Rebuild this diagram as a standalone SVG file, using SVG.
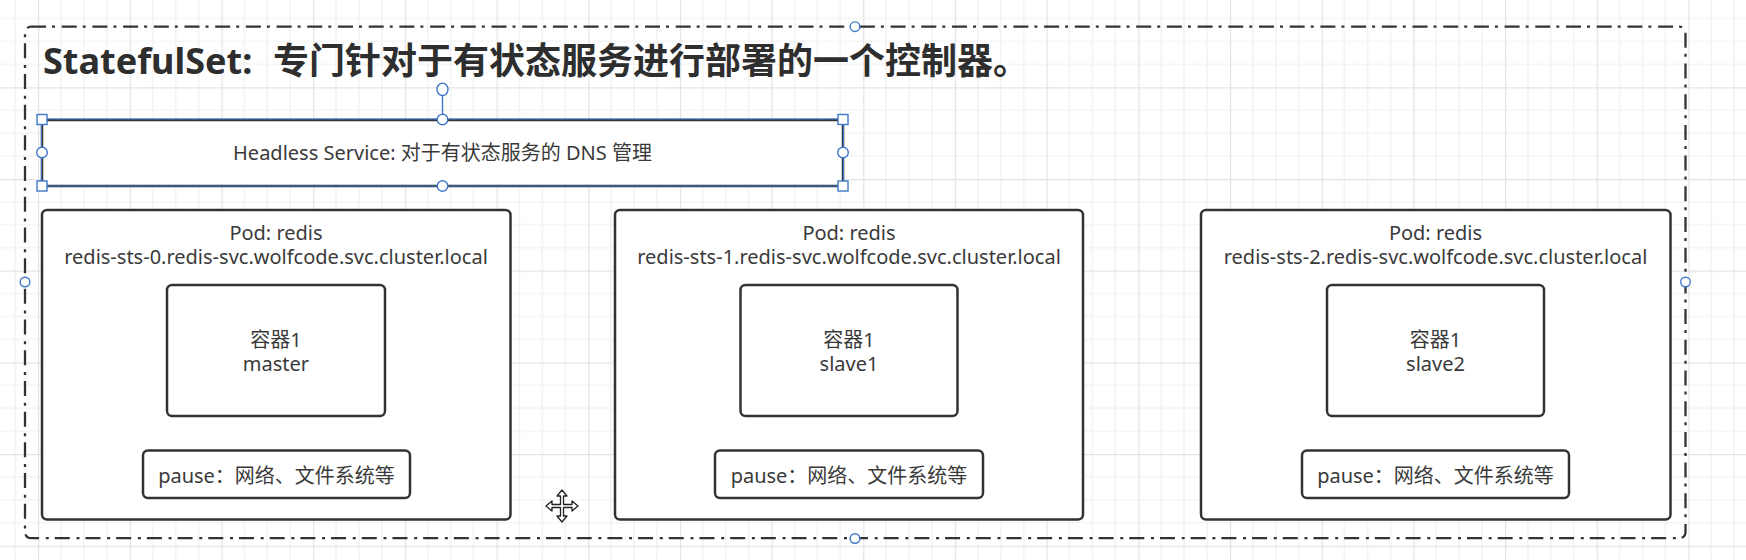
<svg xmlns="http://www.w3.org/2000/svg" width="1746" height="560" viewBox="0 0 1746 560">
  <style>
    .box{fill:#fff;stroke:#333;stroke-width:2.5}
    .t{font-family:"Noto Sans","Noto Sans CJK SC",sans-serif;font-size:20px;fill:#3a3a3a;text-anchor:middle}
    .title{font-family:"Noto Sans","Noto Sans CJK SC",sans-serif;font-size:36px;font-weight:bold;fill:#2e2e2e}
    .h{fill:#fff;stroke:#3f78c8;stroke-width:1.4}
  </style>
  <defs>
    <pattern id="grid" patternUnits="userSpaceOnUse" x="38.1" y="-4.4" width="91.68" height="91.68">
      <rect width="91.68" height="91.68" fill="#fff"/>
      <path d="M22.92 0V91.68M45.84 0V91.68M68.76 0V91.68M0 22.92H91.68M0 45.84H91.68M0 68.76H91.68" stroke="#efefef" stroke-width="1.2"/>
      <path d="M0.6 0V91.68M0 0.6H91.68" stroke="#e3e3e3" stroke-width="1.2"/>
    </pattern>
  </defs>
  <rect width="1746" height="560" fill="url(#grid)"/>

  <g id="statefulset">
    <rect x="25" y="26.7" width="1660.5" height="511.5" rx="6" fill="none" stroke="#333" stroke-width="2.3" stroke-dasharray="15 6 3 6.7"/>
    <text class="title" x="43" y="74">StatefulSet: <tspan x="273">专门针对于有状态服务进行部署的一个控制器。</tspan></text>
    <circle class="h" cx="855" cy="26.7" r="4.8"/>
    <circle class="h" cx="855" cy="538.5" r="4.8"/>
    <circle class="h" cx="25" cy="282" r="4.8"/>
    <circle class="h" cx="1685.5" cy="282" r="4.8"/>
  </g>

  <g id="headless-service">
    <rect class="box" x="42" y="120" width="801" height="66"/>
    <rect x="41.5" y="119" width="802" height="67" fill="none" stroke="#3f78c8" stroke-width="1.1"/>
    <text class="t" x="442.5" y="159.5">Headless Service: 对于有状态服务的 DNS 管理</text>
    <line x1="442.5" y1="95.5" x2="442.5" y2="114.5" stroke="#3f78c8" stroke-width="1.4"/>
    <ellipse class="h" cx="442.5" cy="89.3" rx="5.5" ry="6.2"/>
    <circle class="h" cx="442.5" cy="119.5" r="5.3"/>
    <circle class="h" cx="442.5" cy="186" r="5.3"/>
    <circle class="h" cx="42" cy="152.5" r="5.3"/>
    <circle class="h" cx="843" cy="152.5" r="5.3"/>
    <rect class="h" x="37" y="114.5" width="10" height="10"/>
    <rect class="h" x="838" y="114.5" width="10" height="10"/>
    <rect class="h" x="37" y="181" width="10" height="10"/>
    <rect class="h" x="838" y="181" width="10" height="10"/>
  </g>

  <g id="pod-0">
    <rect class="box" x="42" y="210" width="468.5" height="309.5" rx="5"/>
    <text class="t" x="276" y="239.5">Pod: redis</text>
    <text class="t" x="276" y="263.5">redis-sts-0.redis-svc.wolfcode.svc.cluster.local</text>
  </g>
  <g id="container-0">
    <rect class="box" x="167" y="285" width="218" height="131" rx="5"/>
    <text class="t" x="276" y="346.5">容器1</text>
    <text class="t" x="276" y="370.7">master</text>
  </g>
  <g id="pause-0">
    <rect class="box" x="143" y="450.5" width="267" height="47.5" rx="5"/>
    <text class="t" x="276.5" y="482.5">pause：网络、文件系统等</text>
  </g>

  <g id="pod-1">
    <rect class="box" x="615" y="210" width="468" height="309.5" rx="5"/>
    <text class="t" x="849" y="239.5">Pod: redis</text>
    <text class="t" x="849" y="263.5">redis-sts-1.redis-svc.wolfcode.svc.cluster.local</text>
  </g>
  <g id="container-1">
    <rect class="box" x="740.5" y="285" width="217" height="131" rx="5"/>
    <text class="t" x="849" y="346.5">容器1</text>
    <text class="t" x="849" y="370.7">slave1</text>
  </g>
  <g id="pause-1">
    <rect class="box" x="715" y="450.5" width="268" height="47.5" rx="5"/>
    <text class="t" x="849" y="482.5">pause：网络、文件系统等</text>
  </g>

  <g id="pod-2">
    <rect class="box" x="1201" y="210" width="469.5" height="309.5" rx="5"/>
    <text class="t" x="1435.5" y="239.5">Pod: redis</text>
    <text class="t" x="1435.5" y="263.5">redis-sts-2.redis-svc.wolfcode.svc.cluster.local</text>
  </g>
  <g id="container-2">
    <rect class="box" x="1327" y="285" width="217" height="131" rx="5"/>
    <text class="t" x="1435.5" y="346.5">容器1</text>
    <text class="t" x="1435.5" y="370.7">slave2</text>
  </g>
  <g id="pause-2">
    <rect class="box" x="1302" y="450.5" width="267" height="47.5" rx="5"/>
    <text class="t" x="1435.5" y="482.5">pause：网络、文件系统等</text>
  </g>

  <g id="connectors"></g>

  <g id="cursor" transform="translate(562 506)">
    <path d="M0 -16L5 -10H1.5V-1.5H10V-5L16 0L10 5V1.5H1.5V10H5L0 16L-5 10H-1.5V1.5H-10V5L-16 0L-10 -5V-1.5H-1.5V-10H-5Z" fill="#fff" stroke="#222" stroke-width="1.3" stroke-linejoin="round"/>
  </g>
</svg>
